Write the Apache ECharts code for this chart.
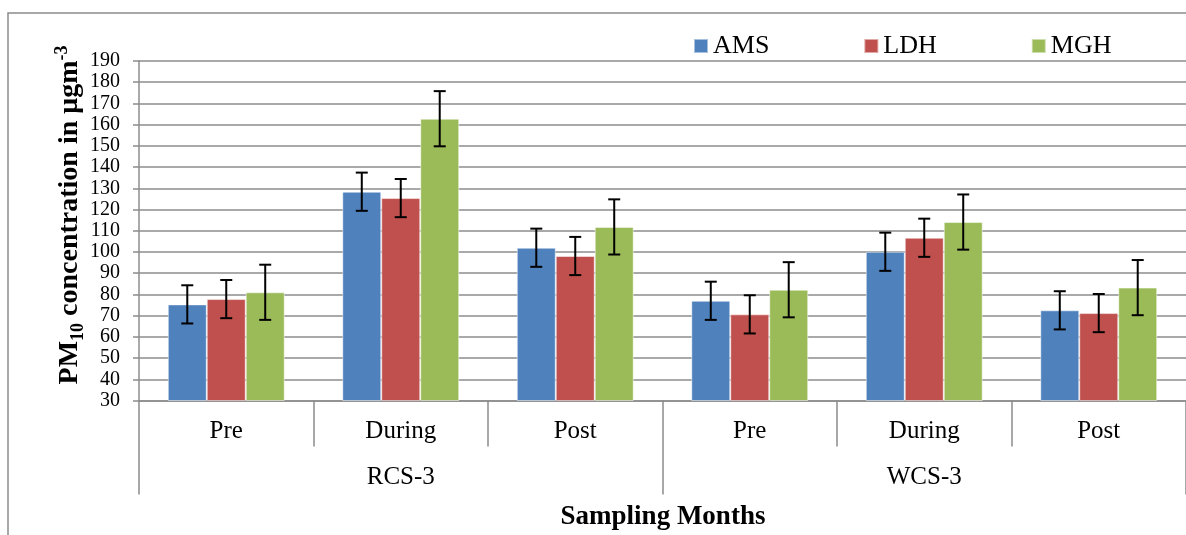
<!DOCTYPE html>
<html>
<head>
<meta charset="utf-8">
<script src="https://cdn.jsdelivr.net/npm/echarts@6/dist/echarts.min.js"></script>
<style>html,body{margin:0;padding:0;background:#fff}#c{width:1186px;height:535px}</style>
</head>
<body>
<div id="c"></div>
<script>
var categories = ['Pre', 'During', 'Post', 'Pre', 'During', 'Post'];
var groups = ['RCS-3', 'WCS-3'];
var seriesNames = ['AMS', 'LDH', 'MGH'];
var amsValues = [75.3, 128.4, 102.0, 77.0, 100.1, 72.5];
var ldhValues = [77.8, 125.4, 98.1, 70.6, 106.7, 71.2];
var mghValues = [81.0, 162.8, 111.8, 82.2, 114.1, 83.2];
var amsErrors = [9, 9, 9, 9, 9, 9];
var ldhErrors = [9, 9, 9, 9, 9, 9];
var mghErrors = [13, 13, 13, 13, 13, 13];
var yTicks = {min: 30, max: 190, step: 10};
var colors = ['#4F81BD', '#C0504D', '#9BBB59'];

var FONT = 'Liberation Serif, Times New Roman, serif';
var GRID = '#8c8c8c';
var CAT_GAP = 0.33;

var values = [amsValues, ldhValues, mghValues];
var errors = [amsErrors, ldhErrors, mghErrors];

function errRender(sIdx) {
  return function (params, api) {
    var xi = api.value(0), v = api.value(1), e = api.value(2);
    var c = api.coord([xi, v]);
    var band = api.size([1, 0])[0];
    var bw = band * (1 - CAT_GAP) / 3;
    var x = c[0] + (sIdx - 1) * bw;
    var yt = api.coord([xi, v + e])[1];
    var yb = api.coord([xi, v - e])[1];
    var cap = 6;
    var st = {stroke: '#000', lineWidth: 2};
    return {type: 'group', children: [
      {type: 'line', shape: {x1: x, y1: yt, x2: x, y2: yb}, style: st},
      {type: 'line', shape: {x1: x - cap, y1: yt, x2: x + cap, y2: yt}, style: st},
      {type: 'line', shape: {x1: x - cap, y1: yb, x2: x + cap, y2: yb}, style: st}
    ]};
  };
}

var series = [];
seriesNames.forEach(function (n, i) {
  series.push({
    name: n, type: 'bar', data: values[i],
    barGap: '0%', barCategoryGap: '33%',
    itemStyle: {color: colors[i], borderColor: 'rgba(255,255,255,0.5)', borderWidth: 1},
    emphasis: {disabled: true}, animation: false
  });
});
seriesNames.forEach(function (n, i) {
  series.push({
    type: 'custom', renderItem: errRender(i), z: 10, silent: true,
    data: values[i].map(function (v, k) { return [k, v, errors[i][k]]; }),
    encode: {x: 0, y: 1}, animation: false
  });
});

var chart = echarts.init(document.getElementById('c'), null, {renderer: 'canvas'});
chart.setOption({
  animation: false,
  textStyle: {fontFamily: FONT},
  grid: {left: 139, right: 0, top: 61, bottom: 134.5, containLabel: false},
  legend: {
    data: seriesNames, left: 693, top: 33, icon: 'rect', padding: 0,
    itemWidth: 14, itemHeight: 14, itemGap: 94,
    textStyle: {fontFamily: FONT, fontSize: 26, color: '#000'},
    selectedMode: false
  },
  xAxis: [{
    type: 'category', data: categories, position: 'bottom',
    axisLine: {show: true, lineStyle: {color: GRID, width: 1.5}},
    axisTick: {show: true, alignWithLabel: false, length: 46, lineStyle: {color: GRID, width: 1.5}},
    axisLabel: {fontFamily: FONT, fontSize: 25, color: '#000', margin: 18, interval: 0}
  }, {
    type: 'category', data: groups, position: 'bottom',
    axisLine: {show: false},
    axisTick: {show: true, alignWithLabel: false, length: 94, lineStyle: {color: GRID, width: 1.5}},
    axisLabel: {fontFamily: FONT, fontSize: 25, color: '#000', margin: 64, interval: 0}
  }],
  yAxis: {
    type: 'value', min: yTicks.min, max: yTicks.max, interval: yTicks.step,
    axisLine: {show: true, lineStyle: {color: GRID, width: 1.5}},
    axisTick: {show: true, length: 6, lineStyle: {color: GRID, width: 1.5}},
    axisLabel: {fontFamily: FONT, fontSize: 20, color: '#000', margin: 19},
    splitLine: {lineStyle: {color: GRID, width: 1.5}}
  },
  graphic: [
    {type: 'rect', z: -10, silent: true,
     shape: {x: 8, y: 13, width: 1300, height: 700},
     style: {fill: 'none', stroke: '#8c8c8c', lineWidth: 1.5}},
    {type: 'text', x: 70, y: 215, rotation: Math.PI / 2, silent: true,
     style: {
       text: '{b|PM}{sub|10}{b| concentration in μgm}{sup|-3}',
       align: 'center', verticalAlign: 'middle',
       rich: {
         b: {fontFamily: FONT, fontWeight: 'bold', fontSize: 28, lineHeight: 34, fill: '#000', verticalAlign: 'middle'},
         sub: {fontFamily: FONT, fontWeight: 'bold', fontSize: 18, lineHeight: 18, fill: '#000', verticalAlign: 'bottom'},
         sup: {fontFamily: FONT, fontWeight: 'bold', fontSize: 18, lineHeight: 18, fill: '#000', verticalAlign: 'top'}
       }
     }},
    {type: 'text', x: 663, y: 517, silent: true,
     style: {text: 'Sampling Months', fontFamily: FONT, fontWeight: 'bold', fontSize: 27, fill: '#000', align: 'center', verticalAlign: 'middle'}}
  ],
  series: series
});
</script>
</body>
</html>
